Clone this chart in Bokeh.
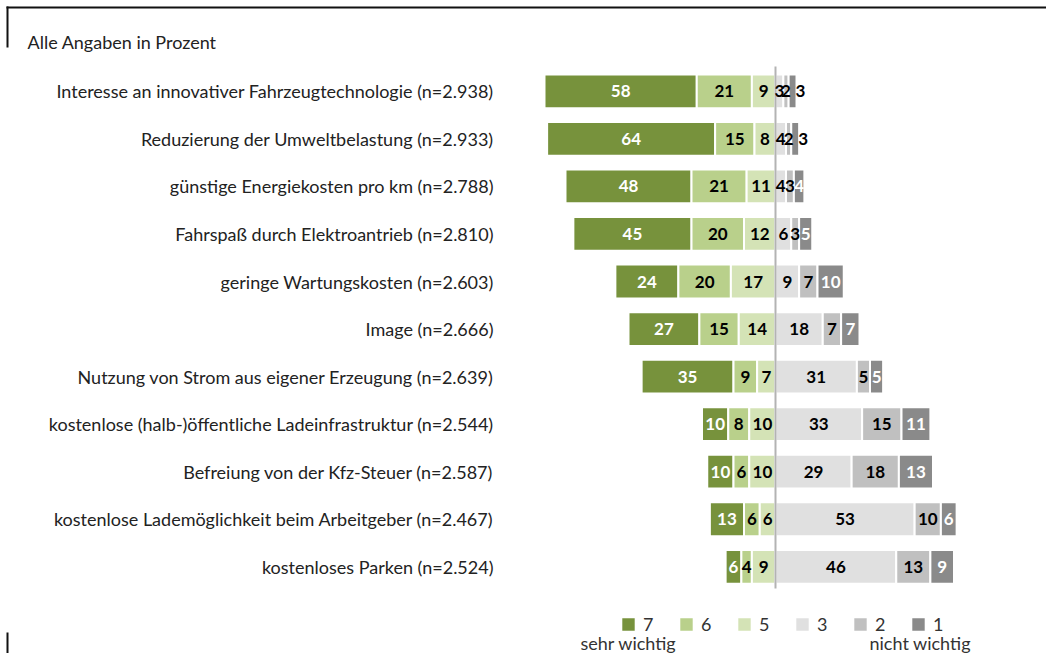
from bokeh.plotting import figure
from bokeh.models import ColumnDataSource, Range1d, Legend, LegendItem, Label
from bokeh.embed import file_html
from bokeh.resources import INLINE
from bokeh.core.properties import value

# ---------------- data ----------------
categories = [
    "Interesse an innovativer Fahrzeugtechnologie (n=2.938)",
    "Reduzierung der Umweltbelastung (n=2.933)",
    "günstige Energiekosten pro km (n=2.788)",
    "Fahrspaß durch Elektroantrieb (n=2.810)",
    "geringe Wartungskosten (n=2.603)",
    "Image (n=2.666)",
    "Nutzung von Strom aus eigener Erzeugung (n=2.639)",
    "kostenlose (halb-)öffentliche Ladeinfrastruktur (n=2.544)",
    "Befreiung von der Kfz-Steuer (n=2.587)",
    "kostenlose Lademöglichkeit beim Arbeitgeber (n=2.467)",
    "kostenloses Parken (n=2.524)",
]
v7 = [58, 64, 48, 45, 24, 27, 35, 10, 10, 13, 6]
v6 = [21, 15, 21, 20, 20, 15, 9, 8, 6, 6, 4]
v5 = [9, 8, 11, 12, 17, 14, 7, 10, 10, 6, 9]
v3 = [3, 4, 4, 6, 9, 18, 31, 33, 29, 53, 46]
v2 = [2, 2, 3, 3, 7, 7, 5, 15, 18, 10, 13]
v1 = [3, 3, 4, 5, 10, 7, 5, 11, 13, 6, 9]
series_names = ["7", "6", "5", "3", "2", "1"]
title_text = "Alle Angaben in Prozent"
left_note = "sehr wichtig"
right_note = "nicht wichtig"

# ---------------- styles / layout ----------------
colors = {"7": "#77923c", "6": "#b9d08b", "5": "#d4e3b6",
          "3": "#e0e0e0", "2": "#c0c0c0", "1": "#8a8a8a"}
label_colors = {"7": "white", "6": "black", "5": "black",
                "3": "black", "2": "black", "1": "white"}
FONT = "Lato"
TXT = "18px"
W, H = 1046, 653
PX_PER_PCT = 2.625
CENTER_PX = 775.0
ROW_PX = 47.55
ROW0_PX = 90.8
BAR_H = 0.71

x_start = -CENTER_PX / PX_PER_PCT
x_end = (W - CENTER_PX) / PX_PER_PCT
y_top = -ROW0_PX / ROW_PX
y_bottom = y_top + H / ROW_PX


def sx(px):  # pixel -> data x
    return x_start + px / PX_PER_PCT


def sy(py):  # pixel -> data y
    return y_top + py / ROW_PX


p = figure(width=W, height=H, x_range=Range1d(x_start, x_end),
           y_range=Range1d(y_bottom, y_top), output_backend="svg",
           toolbar_location=None, min_border=0,
           x_axis_location=None, y_axis_location=None)
p.grid.visible = False
p.outline_line_color = None
p.background_fill_color = "white"
p.border_fill_color = "white"

rows = list(range(len(categories)))

values = {"7": v7, "6": v6, "5": v5, "3": v3, "2": v2, "1": v1}
left_order = ["5", "6", "7"]   # from center outward (negative side)
right_order = ["3", "2", "1"]  # from center outward (positive side)
lefts = {k: [] for k in series_names}
rights = {k: [] for k in series_names}
for i in rows:
    acc = 0.0
    for k in left_order:
        rights[k].append(-acc)
        acc += values[k][i]
        lefts[k].append(-acc)
    acc = 0.0
    for k in right_order:
        lefts[k].append(acc)
        acc += values[k][i]
        rights[k].append(acc)

renderers = {}
label_x, label_y, label_t, label_c = [], [], [], []
for k in series_names:
    src = ColumnDataSource(dict(y=rows, left=lefts[k], right=rights[k]))
    renderers[k] = p.hbar(y="y", left="left", right="right", height=BAR_H,
                          source=src, fill_color=colors[k],
                          line_color="white", line_width=2)
    for i in rows:
        val = values[k][i]
        cx = (lefts[k][i] + rights[k][i]) / 2
        col = label_colors[k]
        if k == "1" and val <= 3:
            cx = rights[k][i] + 1.5
            col = "black"
        label_x.append(cx)
        label_y.append(i)
        label_t.append(str(val))
        label_c.append(col)

# center line
p.segment(x0=[0], y0=[sy(66)], x1=[0], y1=[sy(588)],
          line_color="#b3b3b3", line_width=2)

# value labels
p.text(x=label_x, y=label_y, text=label_t, text_color=label_c,
       text_align="center", text_baseline="middle",
       text_font=value(FONT), text_font_style="bold",
       text_font_size="17px")

# category labels
p.text(x=[sx(493)] * len(categories), y=rows, text=categories,
       text_align="right", text_baseline="middle",
       text_font=value(FONT), text_font_size=TXT, text_color="#222222")

# title
p.add_layout(Label(x=sx(27), y=sy(41), text=title_text,
                   text_align="left", text_baseline="middle",
                   text_font=FONT, text_font_size=TXT,
                   text_color="#222222"))

# legend
legend = Legend(items=[LegendItem(label=k, renderers=[renderers[k]])
                       for k in series_names],
                orientation="horizontal", location=(619, 18),
                glyph_width=18, glyph_height=18, label_standoff=6,
                spacing=14, padding=0, margin=0, label_width=20,
                border_line_color=None, background_fill_alpha=0,
                label_text_font=FONT, label_text_font_size=TXT,
                label_text_color="#333333")
p.add_layout(legend)

p.add_layout(Label(x=sx(580), y=sy(642), text=left_note,
                   text_align="left", text_baseline="middle",
                   text_font=FONT, text_font_size=TXT,
                   text_color="#333333"))
p.add_layout(Label(x=sx(869), y=sy(642), text=right_note,
                   text_align="left", text_baseline="middle",
                   text_font=FONT, text_font_size=TXT,
                   text_color="#333333"))

# frame decoration lines
p.segment(x0=[sx(6)], y0=[sy(7)], x1=[sx(W)], y1=[sy(7)],
          line_color="#111111", line_width=2)
p.segment(x0=[sx(7), sx(7)], y0=[sy(6), sy(632)],
          x1=[sx(7), sx(7)], y1=[sy(47), sy(H)],
          line_color="#111111", line_width=2)

open("out.html", "w").write(file_html(p, INLINE))
